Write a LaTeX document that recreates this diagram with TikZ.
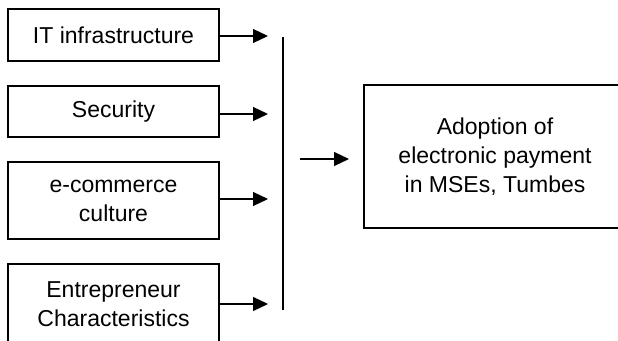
\documentclass[tikz,border=0pt]{standalone}
\usepackage{fontspec}
\setmainfont{Liberation Sans}
\usetikzlibrary{arrows.meta}
\tikzset{
    factor/.style={draw=black, line width=2pt, align=center, inner sep=0pt,
        font=\fontsize{23}{29}\selectfont},
    toarrow/.style={line width=1.1pt, -{Triangle[length=15pt,width=14pt]}}
}
\begin{document}
\begin{tikzpicture}[x=1pt,y=-1pt]
        %marco de la figura
        \useasboundingbox (0,0) rectangle (618,340);
        \clip (0,0) rectangle (618,340);

        %factores a la izquierda
        \node[factor, minimum width=211pt, minimum height=52pt] (IT) at (113.5,35) {IT infrastructure};
        \node[factor, minimum width=211pt, minimum height=51pt] (Sec) at (113.5,111.5) {Security};
        \node[factor, minimum width=211pt, minimum height=77pt] (Cult) at (113.5,200.5) {e-commerce\\culture};
        \node[factor, minimum width=211pt, minimum height=80pt] (Entr) at (113.5,304) {Entrepreneur\\Characteristics};

        %variable dependiente
        \node[factor, minimum width=262pt, minimum height=143pt] (Adopt) at (495,156.5)
            {Adoption of\\electronic payment\\in MSEs, Tumbes};

        \coordinate (BarTop) at (283,37);
        \coordinate (BarBot) at (283,310);
        \coordinate (MidStart) at (300,159);
        \coordinate (MidEnd) at (349,159);

        \draw[line width=1.4pt] (BarTop) -- (BarBot);

        \foreach \v/\y in {IT/36, Sec/114, Cult/199, Entr/304}
        {
            \coordinate (\v End) at (268,\y);
            \draw[toarrow] (\v.east |- \v End) -- (\v End);
        };
        \draw[toarrow] (MidStart) -- (MidEnd);
\end{tikzpicture}
\end{document}
